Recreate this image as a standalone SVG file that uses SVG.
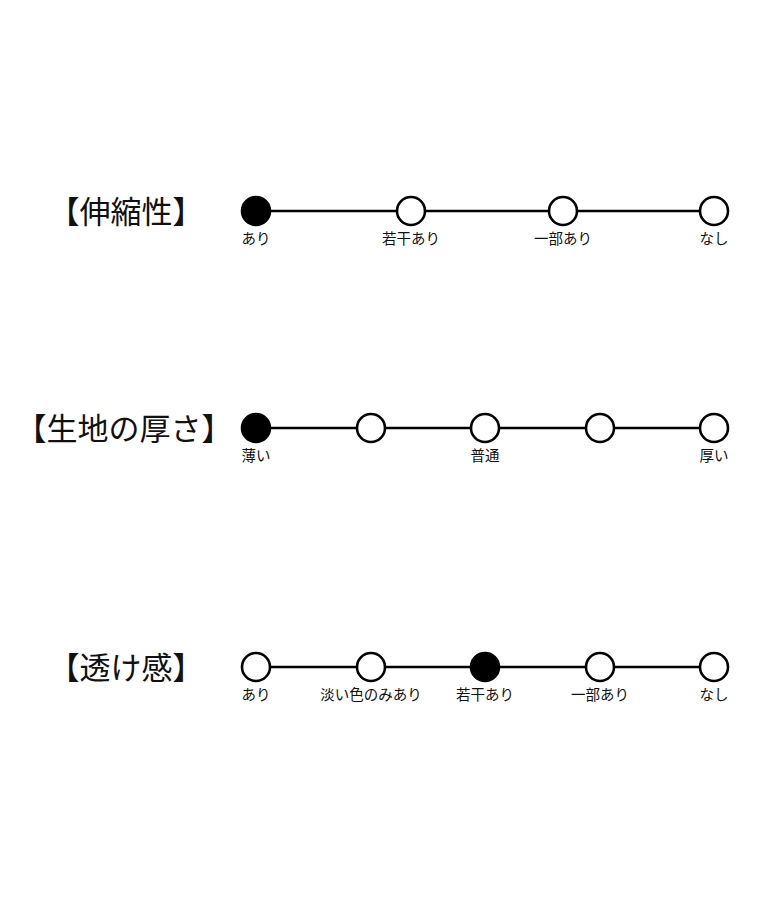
<svg xmlns="http://www.w3.org/2000/svg" width="768" height="900" viewBox="0 0 768 900">
<style>
.title{font-family:"Noto Sans CJK JP","Noto Sans",sans-serif;font-size:31px;font-weight:400;fill:#111;text-anchor:middle;}
.lbl{font-family:"Noto Sans CJK JP","Noto Sans",sans-serif;font-size:14.5px;fill:#111;text-anchor:middle;}
.line{stroke:#000;stroke-width:2.6;fill:none;}
.dot{stroke:#000;stroke-width:2.6;fill:#fff;}
.on{fill:#000;}
</style>
<rect width="768" height="900" fill="#fff"/>
<g id="connectors">
<line class="line" x1="256" y1="211" x2="714" y2="211"/>
<line class="line" x1="256" y1="428" x2="714" y2="428"/>
<line class="line" x1="256" y1="667" x2="714" y2="667"/>
</g>
<g id="row1">
<text class="title" x="126" y="223">【伸縮性】</text>
<circle class="dot on" cx="256" cy="211" r="14"/>
<circle class="dot" cx="411" cy="211" r="14"/>
<circle class="dot" cx="563" cy="211" r="14"/>
<circle class="dot" cx="714" cy="211" r="14"/>
<text class="lbl" x="256" y="244">あり</text>
<text class="lbl" x="411" y="244">若干あり</text>
<text class="lbl" x="563" y="244">一部あり</text>
<text class="lbl" x="714" y="244">なし</text>
</g>
<g id="row2">
<text class="title" x="124" y="440">【生地の厚さ】</text>
<circle class="dot on" cx="256" cy="428" r="14"/>
<circle class="dot" cx="371" cy="428" r="14"/>
<circle class="dot" cx="485" cy="428" r="14"/>
<circle class="dot" cx="600" cy="428" r="14"/>
<circle class="dot" cx="714" cy="428" r="14"/>
<text class="lbl" x="256" y="461">薄い</text>
<text class="lbl" x="485" y="461">普通</text>
<text class="lbl" x="714" y="461">厚い</text>
</g>
<g id="row3">
<text class="title" x="126" y="679">【透け感】</text>
<circle class="dot" cx="256" cy="667" r="14"/>
<circle class="dot" cx="371" cy="667" r="14"/>
<circle class="dot on" cx="485" cy="667" r="14"/>
<circle class="dot" cx="600" cy="667" r="14"/>
<circle class="dot" cx="714" cy="667" r="14"/>
<text class="lbl" x="256" y="700">あり</text>
<text class="lbl" x="371" y="700">淡い色のみあり</text>
<text class="lbl" x="485" y="700">若干あり</text>
<text class="lbl" x="600" y="700">一部あり</text>
<text class="lbl" x="714" y="700">なし</text>
</g>
</svg>
